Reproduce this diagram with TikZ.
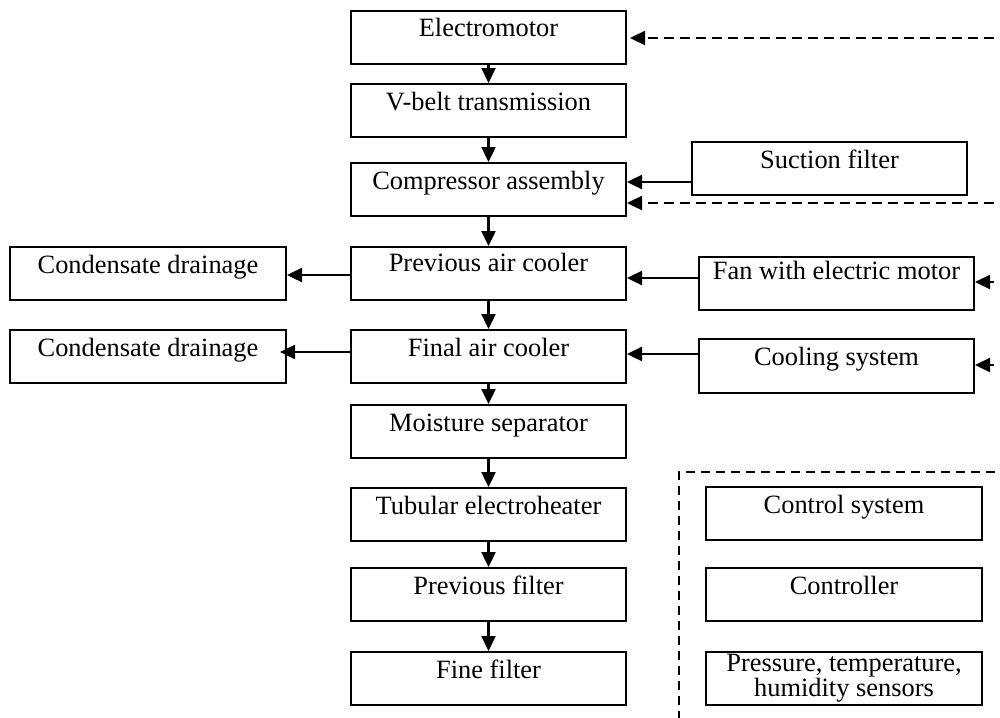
\documentclass[tikz,border=0pt]{standalone}
\usepackage{fontspec}
\setmainfont{Liberation Serif}
\usetikzlibrary{arrows.meta}
\begin{document}
\begin{tikzpicture}[x=1pt,y=-1pt,
  box/.style={draw, line width=2pt, inner sep=0pt, minimum width=275pt,
    text height=26pt, text depth=27pt, anchor=north west,
    font=\fontsize{26.4}{23}\selectfont},
  hibox/.style={box, text height=22pt, text depth=31pt},
  twobox/.style={draw, line width=2pt, inner sep=0pt, minimum width=276pt,
    minimum height=53pt, anchor=north west, align=center,
    font=\fontsize{26.4}{23}\selectfont},
  flow/.style={-{Triangle[length=15pt,width=14pt]}, line width=2.4pt},
  dflow/.style={flow, dash pattern=on 10pt off 6pt},
  frame/.style={line width=2pt, dash pattern=on 9pt off 6pt}
]
\useasboundingbox (0,0) rectangle (1000,717);
\clip (0,0) rectangle (1000,717);
% main column
\node[box] (em)   at (350,10)  {Electromotor};
\node[box] (vb)   at (350,83)  {V-belt transmission};
\node[box] (comp) at (350,162) {Compressor assembly};
\node[box, text height=24pt, text depth=29pt] (pac) at (350,246) {Previous air cooler};
\node[box] (fac)  at (350,329) {Final air cooler};
\node[box] (ms)   at (350,404) {Moisture separator};
\node[box] (te)   at (350,487) {Tubular electroheater};
\node[box] (pf)   at (350,567) {Previous filter};
\node[box] (ff)   at (350,651) {Fine filter};
% left
\node[box, minimum width=276pt] (cd1) at (9,246) {Condensate drainage};
\node[box, minimum width=276pt] (cd2) at (9,329) {Condensate drainage};
% right
\node[box] (suc)  at (691,141) {Suction filter};
\node[hibox] (fan) at (698,256) {Fan with electric motor};
\node[box, text height=26pt, text depth=28pt] (cool) at (698,338) {Cooling system};
\node[box, minimum width=276pt] (cs)  at (705,486) {Control system};
\node[box, minimum width=276pt] (ctl) at (705,567) {Controller};
\node[twobox] (sens) at (705,651) {Pressure, temperature,\\humidity sensors};
% free ends at the right edge
\coordinate (r1) at (1010,38);
\coordinate (r2) at (1010,203);
\coordinate (r3) at (1010,282);
\coordinate (r4) at (1010,365);
\coordinate (fa) at (1010,472);
\coordinate (fb) at (679,472);
\coordinate (fc) at (679,725);
% main flow
\draw[flow] (em.south) -- (vb.north);
\draw[flow] (vb.south) -- (comp.north);
\draw[flow] (comp.south) -- (pac.north);
\draw[flow] (pac.south) -- (fac.north);
\draw[flow] (fac.south) -- (ms.north);
\draw[flow] (ms.south) -- (te.north);
\draw[flow] (te.south) -- (pf.north);
\draw[flow] (pf.south) -- (ff.north);
% side flows
\draw[flow] (pac.west |- 0,275) -- (cd1.east |- 0,275);
\draw[flow] (fac.west |- 0,352) -- ([xshift=-7pt]cd2.east |- 0,352);
\draw[flow] (suc.west |- 0,182) -- (comp.east |- 0,182);
\draw[flow] (fan.west |- 0,278) -- (pac.east |- 0,278);
\draw[flow] (cool.west |- 0,354) -- (fac.east |- 0,354);
% dashed control links
\draw[dflow] (r1) -- ([xshift=3pt]em.east |- r1);
\draw[dflow] (r2) -- (comp.east |- r2);
\draw[dflow] (r3) -- (fan.east |- r3);
\draw[dflow] (r4) -- (cool.east |- r4);
% dashed frame of the control group
\draw[frame] (fa) -- (fb) -- (fc);
\end{tikzpicture}
\end{document}
